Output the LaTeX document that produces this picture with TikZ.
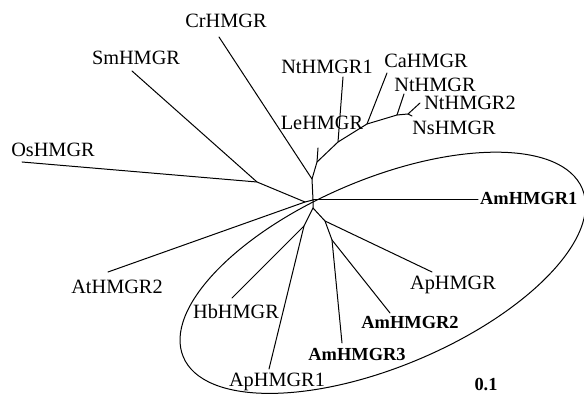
\documentclass[tikz,border=0pt]{standalone}
\usepackage{fontspec}
\setmainfont{Liberation Serif}
\begin{document}
\begin{tikzpicture}[x=1pt,y=-1pt,
  br/.style={line width=1pt, line cap=round, line join=round},
  lab/.style={inner sep=0pt, text height=13pt, text depth=0pt, font=\fontsize{20.3}{22}\selectfont},
  blab/.style={inner sep=0pt, text height=12pt, text depth=0pt, font=\fontsize{18.4}{20}\selectfont\bfseries}]
\useasboundingbox (0,0) rectangle (584,395);
% internal nodes
\coordinate (A) at (313,200);
\coordinate (I) at (305,202);
\coordinate (H) at (257,182);
\coordinate (B) at (312,179);
\coordinate (C) at (317,162);
\coordinate (D) at (338,142);
\coordinate (E) at (367,124);
\coordinate (F) at (397,115);
\coordinate (G) at (408,114);
\coordinate (J) at (313,208);
\coordinate (K) at (304,226);
\coordinate (L) at (325,221);
\coordinate (M) at (332,240);
% leaf ends
\coordinate (sm) at (132,71);
\coordinate (os) at (22,162);
\coordinate (at2) at (108,272);
\coordinate (cr) at (219,37);
\coordinate (le) at (318,148);
\coordinate (nt1) at (343,77);
\coordinate (ca) at (387,73);
\coordinate (nt) at (404,94);
\coordinate (nt2) at (420,103);
\coordinate (ns) at (412,116);
\coordinate (hb) at (232,298);
\coordinate (ap1) at (269,369);
\coordinate (ap) at (432,272);
\coordinate (am3) at (342,343);
\coordinate (am2) at (390,313);
\coordinate (am1) at (478,200);
% branches
\draw[br] (A) -- (I) -- (H) -- (sm);
\draw[br] (H) -- (os);
\draw[br] (I) -- (at2);
\draw[br] (A) -- (B) -- (cr);
\draw[br] (B) -- (C) -- (le);
\draw[br] (C) -- (D) -- (nt1);
\draw[br] (D) -- (E) -- (ca);
\draw[br] (E) -- (F) -- (nt);
\draw[br] (F) -- (G) -- (nt2);
\draw[br] (G) -- (ns);
\draw[br] (A) -- (am1);
\draw[br] (A) -- (J) -- (K) -- (hb);
\draw[br] (K) -- (ap1);
\draw[br] (J) -- (L) -- (ap);
\draw[br] (L) -- (M) -- (am3);
\draw[br] (M) -- (am2);
% labels
\node[lab] (tcr) at (226,21) {CrHMGR};
\node[lab] (tsm) at (136,58) {SmHMGR};
\node[lab] (tos) at (53,150) {OsHMGR};
\node[lab] (tat2) at (117,287) {AtHMGR2};
\node[lab] (tnt1) at (327,67) {NtHMGR1};
\node[lab] (tca) at (426,61) {CaHMGR};
\node[lab] (tnt) at (435,85) {NtHMGR};
\node[lab] (tnt2) at (470,103) {NtHMGR2};
\node[lab] (tns) at (454,128) {NsHMGR};
\node[lab] (tle) at (322,123) {LeHMGR};
\node[lab] (thb) at (236,312) {HbHMGR};
\node[lab] (tap1) at (277,380) {ApHMGR1};
\node[lab] (tap) at (453,283) {ApHMGR};
\node[blab] (tam3) at (357,355) {AmHMGR3};
\node[blab] (tam2) at (410,323) {AmHMGR2};
\node[blab, anchor=west] (tam1) at (480,199) {AmHMGR1};
\node[blab] (scale) at (486,385) {0.1};
% enclosing loop
\coordinate (ec) at (382.8,272.8);
\draw[br, rotate around={22.9:(ec)}] (ec) ellipse [x radius=216.5, y radius=93.7];
\end{tikzpicture}
\end{document}
